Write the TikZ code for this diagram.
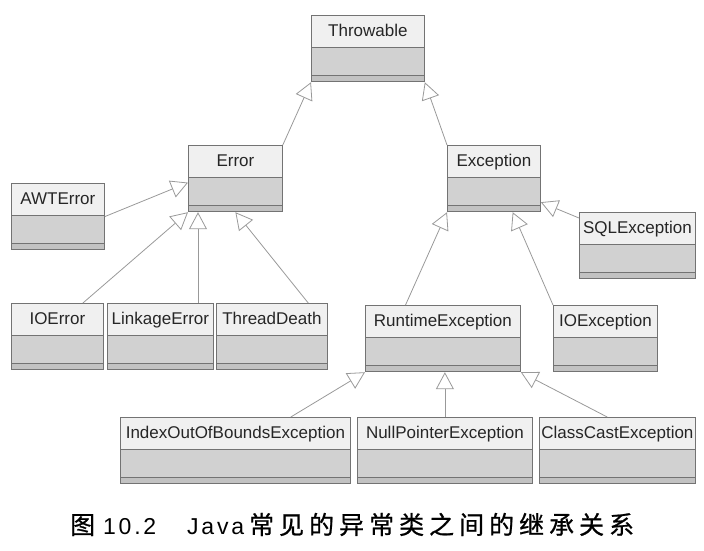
\documentclass[tikz,border=0pt]{standalone}
\usepackage{fontspec}
\setmainfont{Liberation Sans}
\newfontfamily\cjkfont[LetterSpace=20,FakeBold=0.8]{Noto Sans CJK SC}
\newfontfamily\capfont[LetterSpace=12]{Liberation Sans}
\usetikzlibrary{arrows.meta,shapes.multipart,calc}

\begin{document}
\begin{tikzpicture}[x=1pt,y=-1pt,
  cls/.style={rectangle split, rectangle split parts=3, draw=black!55, line width=0.8pt,
    rectangle split part fill={black!6,black!18,black!24}, inner sep=0pt,
    anchor=north west, font=\fontsize{17}{20}\selectfont, text=black!85},
  inh/.style={draw=black!40, line width=0.8pt, -{Triangle[open,length=17pt,width=18pt]}}]
\useasboundingbox (0,0) rectangle (704,550);
% class boxes: name/x/y/width/label
\foreach \nm/\x/\y/\w/\lbl in {thr/311/15/113/Throwable, err/188/145/94/Error,
    exc/447/145/93/Exception, awt/11/183/93/AWTError, sql/579/212/116/SQLException,
    ioerr/11/303/92/IOError, lnk/107/303/106/LinkageError, thd/216/303/111/ThreadDeath,
    rte/365/305/155/RuntimeException, ioex/553/305/104/IOException,
    iob/120/417/230/IndexOutOfBoundsException, npe/357/417/175/NullPointerException,
    cce/539/417/156/ClassCastException} {
  \node[cls, minimum width=\w pt] (\nm) at (\x,\y) {\rule[-10pt]{0pt}{31pt}\lbl
    \nodepart{second}\hspace*{1pt}\rule{0pt}{27pt}\nodepart{third}\hspace*{1pt}\rule{0pt}{6pt}};
}
% inheritance arrows, child -> parent
\coordinate (errl) at ($(err.south west)+(10,0)$);
\draw[inh] (err.north east) -- (thr.south west);
\draw[inh] (exc.north west) -- (thr.south east);
\draw[inh] (awt.east) -- ($(err.west)+(0,4)$);
\draw[inh] ($(ioerr.north)!.55!(ioerr.north east)$) -- (err.south west);
\draw[inh] (errl |- lnk.north) -- (errl);
\draw[inh] ($(thd.north)!.65!(thd.north east)$) -- (err.south);
\draw[inh] ($(rte.north)!.48!(rte.north west)$) -- (exc.south west);
\draw[inh] (ioex.north west) -- ($(exc.south)!.4!(exc.south east)$);
\draw[inh] ($(sql.north west)+(0,6)$) -- ($(exc.south east)+(0,-10)$);
\draw[inh] ($(iob.north)!.48!(iob.north east)$) -- (rte.south west);
\draw[inh] (npe.north) -- (npe.north |- rte.south);
\draw[inh] ($(cce.north)!.13!(cce.north west)$) -- (rte.south east);
% caption
\node[anchor=base west, inner sep=0pt] (cap) at (70,534)
  {\fontsize{25}{28}\selectfont{\cjkfont 图}\hspace{8pt}{\fontsize{23}{28}\selectfont\capfont 10.2}\hspace{31pt}{\fontsize{23}{28}\selectfont\capfont Java}\hspace{5pt}{\cjkfont 常见的异常类之间的继承关系}};
\end{tikzpicture}
\end{document}
